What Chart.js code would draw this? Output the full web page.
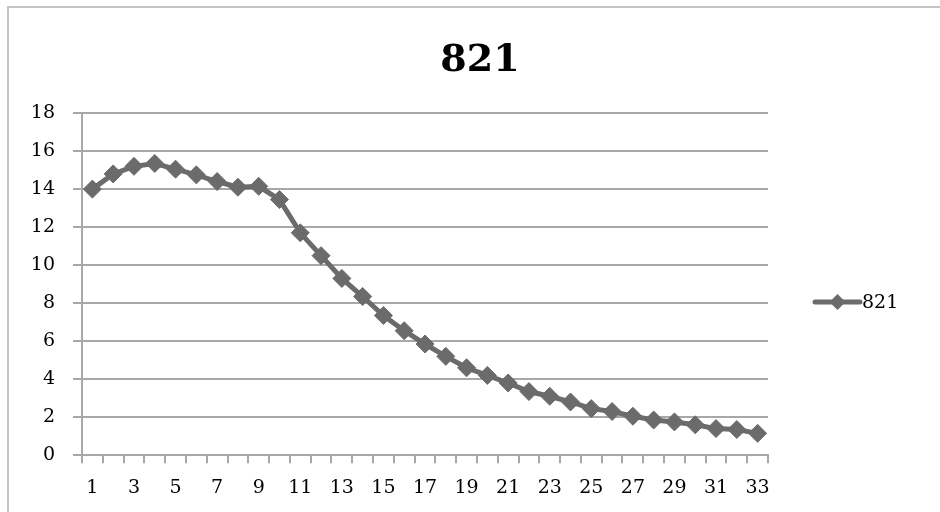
<!DOCTYPE html>
<html>
<head>
<meta charset="utf-8">
<script src="https://cdn.jsdelivr.net/npm/chart.js@4/dist/chart.umd.min.js"></script>
<style>
  html, body { margin: 0; padding: 0; background: #fff; }
  #wrap { width: 940px; height: 512px; position: relative; }
</style>
</head>
<body>
<div id="wrap"><canvas id="c" width="940" height="512"></canvas></div>
<script>
// Series name and category labels
const seriesName = '821';
const categories = ['1','2','3','4','5','6','7','8','9','10','11','12','13','14','15','16','17',
                    '18','19','20','21','22','23','24','25','26','27','28','29','30','31','32','33'];
// Values of series 821
const values821 = [14.0, 14.8, 15.2, 15.35, 15.05, 14.75, 14.4, 14.1, 14.15, 13.45, 11.7,
                   10.5, 9.3, 8.35, 7.35, 6.55, 5.85, 5.2, 4.6, 4.2, 3.8, 3.35, 3.1, 2.8,
                   2.45, 2.3, 2.05, 1.85, 1.75, 1.6, 1.4, 1.35, 1.15];
// Value axis ticks
const yTicks = [0, 2, 4, 6, 8, 10, 12, 14, 16, 18];

const FONT = '"DejaVu Serif", "Liberation Serif", serif';
const LINE = '#6b6b6b';
const GRID = '#a8a8a8';

// white page with a thin frame on top and left
const framePlugin = {
  id: 'frame',
  beforeDraw(chart) {
    const ctx = chart.ctx;
    ctx.save();
    ctx.fillStyle = '#fff';
    ctx.fillRect(0, 0, chart.width, chart.height);
    ctx.strokeStyle = '#c4c4c4';
    ctx.lineWidth = 2;
    ctx.beginPath();
    ctx.moveTo(8, chart.height);
    ctx.lineTo(8, 7);
    ctx.lineTo(chart.width, 7);
    ctx.stroke();
    ctx.restore();
  }
};

// legend entry: line with a diamond marker, followed by the series name
const sideLegend = {
  id: 'sideLegend',
  afterDraw(chart) {
    const ctx = chart.ctx;
    const y = 302, x0 = 815, x1 = 860, cx = (x0 + x1) / 2;
    ctx.save();
    ctx.strokeStyle = LINE;
    ctx.lineWidth = 5;
    ctx.lineCap = 'round';
    ctx.beginPath();
    ctx.moveTo(x0, y);
    ctx.lineTo(x1, y);
    ctx.stroke();
    ctx.fillStyle = LINE;
    ctx.beginPath();
    ctx.moveTo(cx, y - 8);
    ctx.lineTo(cx + 8, y);
    ctx.lineTo(cx, y + 8);
    ctx.lineTo(cx - 8, y);
    ctx.closePath();
    ctx.fill();
    ctx.fillStyle = '#000';
    ctx.font = '19px ' + FONT;
    ctx.textBaseline = 'middle';
    ctx.textAlign = 'left';
    ctx.fillText(seriesName, x1 + 2, y + 1);
    ctx.restore();
  }
};

new Chart(document.getElementById('c'), {
  type: 'line',
  data: {
    labels: categories,
    datasets: [{
      label: seriesName,
      data: values821,
      borderColor: LINE,
      backgroundColor: LINE,
      borderWidth: 5,
      pointStyle: 'rectRot',
      pointRadius: 9,
      pointBorderWidth: 1,
      pointBackgroundColor: LINE,
      pointBorderColor: LINE,
      tension: 0
    }]
  },
  options: {
    responsive: false,
    animation: false,
    devicePixelRatio: 1,
    layout: { padding: { left: 20, right: 0, top: 0, bottom: 0 } },
    plugins: {
      legend: { display: false },
      tooltip: { enabled: false },
      title: {
        display: true,
        text: seriesName,
        color: '#000',
        font: { family: FONT, size: 38, weight: 'bold' },
        padding: { top: 38, bottom: 29.5 }
      }
    },
    scales: {
      x: {
        type: 'category',
        offset: true,
        grid: {
          offset: true,
          drawOnChartArea: false,
          drawTicks: true,
          tickLength: 8,
          color: GRID,
          lineWidth: 2
        },
        border: { display: true, color: GRID, width: 2 },
        ticks: {
          autoSkip: false,
          maxRotation: 0,
          color: '#000',
          padding: 13,
          font: { family: FONT, size: 19 },
          callback: (v, i) => (i % 2 === 0 ? categories[i] : '')
        }
      },
      y: {
        min: 0,
        max: 18,
        afterFit(scale) { scale.width = 62; },
        afterBuildTicks(scale) { scale.ticks = yTicks.map(v => ({ value: v })); },
        grid: { color: GRID, lineWidth: 2, tickLength: 9 },
        border: { display: true, color: GRID, width: 2 },
        ticks: {
          color: '#000',
          padding: 18,
          font: { family: FONT, size: 19 }
        }
      },
      side: {
        position: 'right',
        display: true,
        afterFit(scale) { scale.width = 172; },
        grid: { display: false },
        border: { display: false },
        ticks: { display: false }
      }
    }
  },
  plugins: [framePlugin, sideLegend]
});
</script>
</body>
</html>
